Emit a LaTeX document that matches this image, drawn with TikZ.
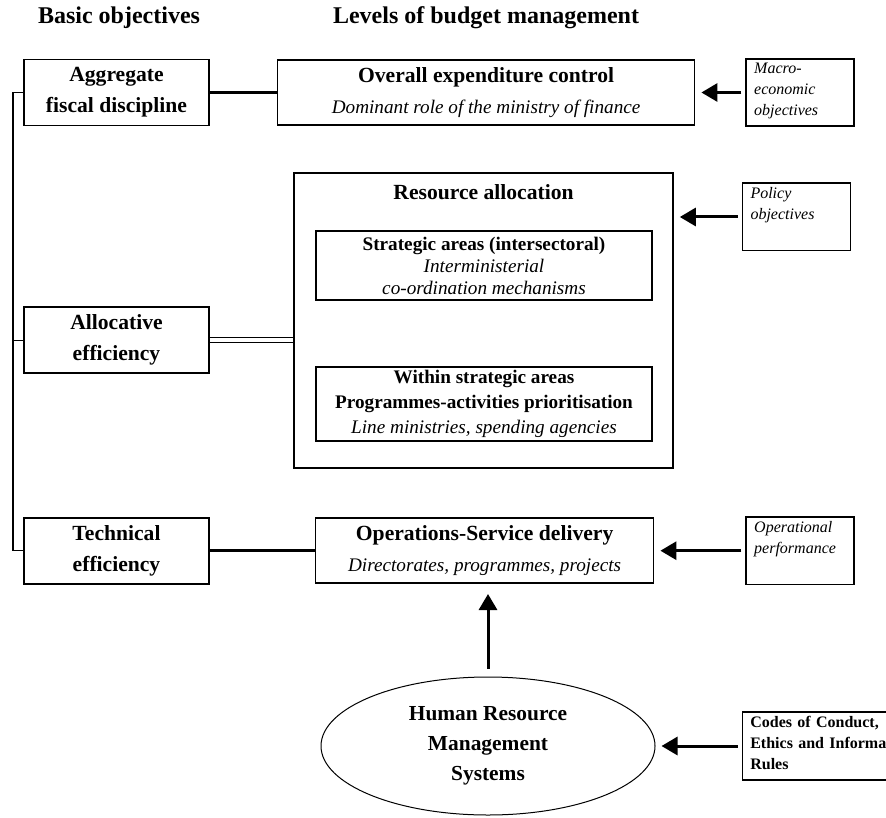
\documentclass[tikz,border=0pt]{standalone}
\usepackage{fontspec}
\setmainfont{Liberation Serif}
\usetikzlibrary{positioning,shapes.geometric,arrows.meta}

\newcommand{\sublevel}[1]{{\fontsize{9.6}{15.5}\selectfont\itshape #1}}

\begin{document}
\begin{tikzpicture}[x=0.5pt, y=-0.5pt, >={Triangle[length=8pt,width=9pt]},
  goal/.style={draw, line width=0.8pt, minimum width=92.5pt, minimum height=33pt, align=center, font=\fontsize{10.8}{15.5}\selectfont\bfseries},
  level/.style={draw, line width=0.8pt, minimum height=32.5pt, align=center, font=\fontsize{10.8}{15.5}\selectfont},
  inbox/.style={draw, line width=0.8pt, minimum width=168pt, minimum height=34.5pt, inner ysep=1.5pt, align=center, font=\fontsize{9.6}{11}\selectfont},
  side/.style={draw, line width=0.8pt, text width=46pt, inner xsep=4pt, inner ysep=2pt, align=left, font=\fontsize{8}{10.5}\selectfont\itshape},
  head/.style={font=\fontsize{12}{14}\selectfont\bfseries},
  title/.style={font=\fontsize{10.8}{13}\selectfont\bfseries},
  link/.style={line width=1.5pt},
  push/.style={->, line width=1.5pt, shorten <=2pt, shorten >=3pt}]

\clip (0,0) rectangle (886,817);

% column headings
\node[head] (hgoal) at (119,18) {Basic objectives};
\node[head, anchor=west] (hlevel) at (326,18) {Levels of budget management};

% basic objectives
\node[goal] (agg) at (116.5,92.5) {Aggregate\\fiscal discipline};
\node[goal] (alloc) [below=90pt of agg] {Allocative\\efficiency};
\node[goal] (tech) [below=71.5pt of alloc] {Technical\\efficiency};

% levels of budget management
\node[level, minimum width=208.5pt] (ovr) [right=33.5pt of agg] {\textbf{Overall expenditure control}\\\sublevel{Dominant role of the ministry of finance}};
\node[draw, line width=0.8pt, minimum width=189.5pt, minimum height=147.5pt] (res) at (483.5,320.5) {};
\node[title] (restitle) [below=2.5pt of res.north] {Resource allocation};
\node[inbox] (strat) at (484,265.5) {\textbf{Strategic areas (intersectoral)}\\\textit{Interministerial}\\\textit{co-ordination mechanisms}};
\node[inbox, font=\fontsize{9.6}{12.5}\selectfont] (within) at (484,404) {\textbf{Within strategic areas}\\\textbf{Programmes-activities prioritisation}\\\textit{Line ministries, spending agencies}};
\node[level, minimum width=169pt] (ops) [right=52.5pt of tech] {\textbf{Operations-Service delivery}\\\sublevel{Directorates, programmes, projects}};
\node[draw, ellipse, line width=0.5pt, minimum width=167pt, minimum height=69pt, align=center, font=\fontsize{10.7}{15}\selectfont\bfseries] (hrm) at (488,746) {Human Resource\\Management\\Systems};

% inputs on the right
\node[side] (macro) [right=25pt of ovr] {Macro-\\economic\\objectives\strut};
\node[side] (policy) at (796.5,217) {Policy\\objectives\\\strut};
\node[side] (operf) [right=45.5pt of ops] {Operational\\performance\\\strut};
\node[side, text width=90pt, font=\fontsize{8}{10.5}\selectfont\bfseries] (codes) [right=43pt of hrm] {Codes of Conduct,\\Ethics and Informal\\Rules\strut};

% connectors
\coordinate (lft) at (13,92.5);
\draw[line width=0.6pt] (agg.west) -- (lft) |- (tech.west);
\draw[line width=0.6pt] (alloc.west) -- (alloc.west -| lft);
\draw[link] (agg) -- (ovr);
\draw[double, double distance=2pt, line width=0.5pt] (alloc) -- (alloc -| res.west);
\draw[link] (tech) -- (ops);

\draw[push] (macro) -- (ovr);
\draw[push] (policy.west) -- (policy.west -| res.east);
\draw[push] (operf) -- (ops);
\draw[push] (codes) -- (hrm);
\draw[push, shorten <=4pt, shorten >=5pt] (hrm.north) -- (hrm.north |- ops.south);

\end{tikzpicture}
\end{document}
